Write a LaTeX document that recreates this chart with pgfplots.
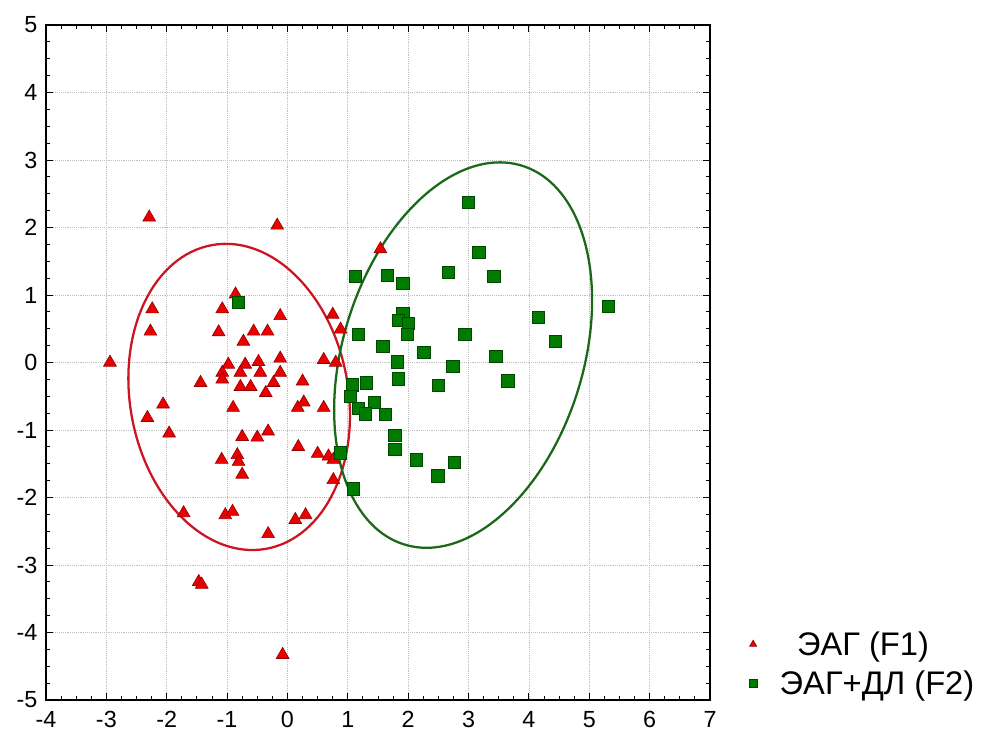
\documentclass[border=0pt]{standalone}
\usepackage{pgfplots}
\pgfplotsset{compat=1.18}
\usepackage{fontspec}
\setmainfont{Liberation Sans}
\definecolor{redfill}{RGB}{235,0,0}
\definecolor{redline}{RGB}{150,0,0}
\definecolor{grnfill}{RGB}{0,125,0}
\definecolor{grnline}{RGB}{0,70,0}
\definecolor{ellred}{RGB}{205,20,35}
\definecolor{ellgrn}{RGB}{25,105,25}
\begin{document}
\begin{tikzpicture}
\begin{axis}[
  name=ax,
  scale only axis,
  width=498pt, height=506.25pt,
  xmin=-4, xmax=7, ymin=-5, ymax=5,
  xtick={-4,...,7}, ytick={-5,...,5},
  minor tick num=3,
  tick align=inside,
  major tick length=5pt, minor tick length=3pt,
  grid=major,
  major grid style={densely dotted, gray!50, line width=0.6pt},
  axis line style={line width=1.2pt},
  tick style={black, line width=0.7pt},
  ticklabel style={font=\fontsize{17.5}{17.5}\selectfont},
  xticklabel style={yshift=-5pt},
  yticklabel style={xshift=-3pt},
  /pgf/number format/assume math mode=true,
  legend style={at={(1.05,0.11)}, anchor=north west, draw=none, fill=none,
    font=\fontsize{24.5}{29}\selectfont, row sep=6pt},
  legend cell align=left,
  legend image code/.code={\draw[#1, mark size=3pt] plot coordinates {(0.15cm,0cm)};
    \path[draw=none] (0cm,0cm) -- (0.78cm,0cm);},
]
% F1: red triangles
\addplot[only marks, mark=triangle*, mark size=5.5pt,
  mark options={fill=redfill, draw=redline, line width=0.5pt}]
coordinates {
(-2.29,2.15)(-0.17,2.03)(1.54,1.68)(-0.86,1.01)(-2.24,0.79)(-2.27,0.46)
(-1.08,0.79)(-0.12,0.69)(0.75,0.71)(-0.73,0.31)(-0.56,0.46)(-0.33,0.46)
(0.88,0.49)(-1.14,0.45)(-2.94,0.00)(-0.98,-0.03)(-1.08,-0.15)(-0.70,-0.03)
(-0.48,0.01)(-0.12,0.06)(0.60,0.04)(0.80,0.00)(-1.44,-0.30)(0.25,-0.28)
(-0.78,-0.36)(-0.61,-0.36)(-0.45,-0.15)(-0.12,-0.15)(-0.23,-0.30)(-0.36,-0.45)
(-0.78,-0.15)(-1.08,-0.25)(0.17,-0.67)(0.27,-0.59)(0.60,-0.67)(-2.06,-0.62)
(-2.32,-0.82)(-1.96,-1.05)(-0.90,-0.67)(-0.75,-1.10)(-0.50,-1.11)(-0.32,-1.02)
(0.18,-1.25)(-1.09,-1.44)(-0.83,-1.37)(-0.81,-1.47)(-0.75,-1.66)(0.50,-1.35)
(0.68,-1.39)(0.76,-1.44)(0.76,-1.74)(-1.72,-2.23)(-1.03,-2.26)(-0.91,-2.21)
(0.13,-2.33)(0.30,-2.26)(-0.32,-2.54)(-1.47,-3.25)(-1.42,-3.29)(-0.08,-4.33)
};
\addlegendentry{\hspace*{13pt}ЭАГ (F1)}
% F2: green squares
\addplot[only marks, mark=square*, mark size=4.6pt,
  mark options={fill=grnfill, draw=grnline, line width=0.5pt}]
coordinates {
(-0.81,0.89)(3.00,2.37)(3.17,1.63)(2.67,1.34)(3.42,1.28)(1.13,1.28)
(1.66,1.29)(1.91,1.17)(5.32,0.83)(4.16,0.67)(4.44,0.31)(1.18,0.42)
(1.91,0.73)(1.84,0.62)(2.00,0.58)(1.99,0.42)(2.94,0.42)(1.58,0.24)
(2.26,0.15)(3.45,0.09)(1.82,0.01)(2.74,-0.06)(3.65,-0.27)(1.84,-0.24)
(2.50,-0.34)(1.31,-0.30)(1.08,-0.33)(1.04,-0.50)(1.44,-0.59)(1.18,-0.68)
(1.29,-0.76)(1.62,-0.77)(1.78,-1.08)(1.78,-1.29)(2.14,-1.44)(2.77,-1.48)
(2.49,-1.68)(0.88,-1.34)(1.09,-1.87)
};
\addlegendentry{ЭАГ+ДЛ (F2)}
% ellipses
\draw[ellred, line width=1.7pt, rotate around={10:(axis cs:-0.80,-0.51)}]
  (axis cs:-0.80,-0.51) ellipse [x radius=1.808, y radius=2.285];
\draw[ellgrn, line width=1.7pt, rotate around={-17.3:(axis cs:2.91,0.11)}]
  (axis cs:2.91,0.11) ellipse [x radius=1.990, y radius=2.938];
\end{axis}
\path ([xshift=-34.5pt,yshift=-26.25pt]ax.south west) rectangle ([xshift=205.5pt,yshift=18.75pt]ax.north east);
\end{tikzpicture}
\end{document}
